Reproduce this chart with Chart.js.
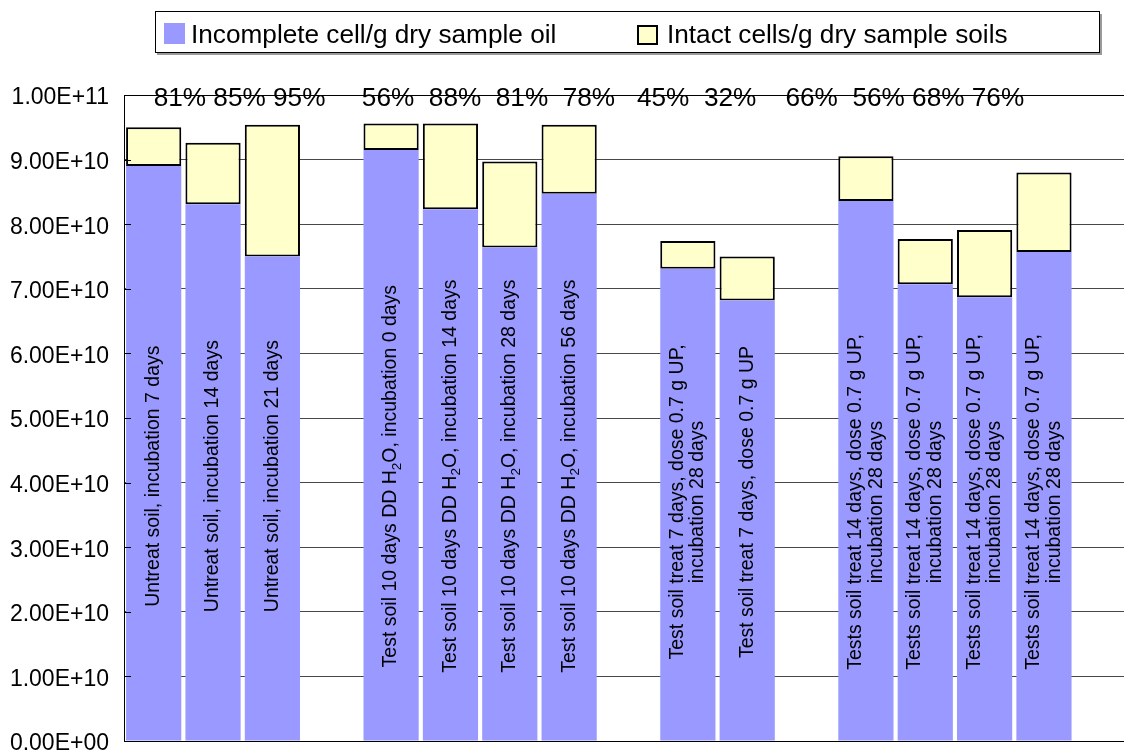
<!DOCTYPE html>
<html>
<head>
<meta charset="utf-8">
<script src="https://cdn.jsdelivr.net/npm/chart.js@4.4.1/dist/chart.umd.min.js"></script>
<style>
  html, body { margin: 0; padding: 0; background: #fff; overflow: hidden; }
  #wrap { width: 1140px; height: 755px; }
</style>
</head>
<body>
<div id="wrap"><canvas id="c" width="1140" height="755"></canvas></div>
<script>
// ---------- data ----------
const categories = [
  'Untreat soil, incubation 7 days',
  'Untreat soil, incubation 14 days',
  'Untreat soil, incubation 21 days',
  '',
  'Test soil 10 days DD H2O, incubation 0 days',
  'Test soil 10 days DD H2O, incubation 14 days',
  'Test soil 10 days DD H2O, incubation 28 days',
  'Test soil 10 days DD H2O, incubation 56 days',
  '',
  ['Test soil treat 7 days, dose 0.7 g UP,', 'incubation 28 days'],
  'Test soil treat 7 days, dose 0.7 g UP',
  '',
  ['Tests soil treat 14 days, dose 0.7 g UP,', 'incubation 28 days'],
  ['Tests soil treat 14 days, dose 0.7 g UP,', 'incubation 28 days'],
  ['Tests soil treat 14 days, dose 0.7 g UP,', 'incubation 28 days'],
  ['Tests soil treat 14 days, dose 0.7 g UP,', 'incubation 28 days'],
  ''
];
const seriesNames = ['Incomplete cell/g dry sample oil', 'Intact cells/g dry sample soils'];
const incompleteCells = [8.90e10, 8.31e10, 7.50e10, null, 9.15e10, 8.23e10, 7.64e10, 8.47e10, null,
                         7.31e10, 6.82e10, null, 8.36e10, 7.07e10, 6.87e10, 7.57e10, null];
const intactCells     = [0.60e10, 0.95e10, 2.04e10, null, 0.41e10, 1.33e10, 1.33e10, 1.07e10, null,
                         0.43e10, 0.68e10, null, 0.69e10, 0.70e10, 1.04e10, 1.23e10, null];
const percentLabels = ['81%', '85%', '95%', '56%', '88%', '81%', '78%', '45%', '32%', '66%', '56%', '68%', '76%'];
const yTickValues = [0, 1e10, 2e10, 3e10, 4e10, 5e10, 6e10, 7e10, 8e10, 9e10, 1e11];

// ---------- helpers ----------
const FONT = "'Liberation Sans', Arial, Helvetica, sans-serif";
function sci(v) {
  if (Math.abs(v) < 1) return '0.00E+00';
  const e = Math.floor(Math.log10(v) + 1e-9);
  const m = v / Math.pow(10, e);
  return m.toFixed(2) + 'E+' + String(e).padStart(2, '0');
}

// legend box drawn from dataset definitions
const legendPlugin = {
  id: 'boxLegend',
  afterDraw(chart) {
    const ctx = chart.ctx;
    const ds = chart.data.datasets;
    ctx.save();
    ctx.fillStyle = '#9a9a9a';
    ctx.fillRect(157, 53, 945, 2);
    ctx.fillRect(1100, 14, 2, 41);
    ctx.fillStyle = '#fff';
    ctx.fillRect(155, 12, 945, 41);
    ctx.strokeStyle = '#000';
    ctx.lineWidth = 1;
    ctx.strokeRect(155.5, 11.5, 944, 41);
    ctx.font = '26.2px ' + FONT;
    ctx.textBaseline = 'alphabetic';
    ctx.textAlign = 'left';
    ctx.fillStyle = ds[0].backgroundColor;
    ctx.fillRect(164, 23, 21, 21);
    ctx.fillStyle = '#000';
    ctx.fillText(ds[0].label, 191, 43);
    ctx.fillStyle = ds[1].backgroundColor;
    ctx.fillRect(638, 26, 19, 18);
    ctx.strokeStyle = '#000';
    ctx.lineWidth = 2;
    ctx.strokeRect(638, 26, 19, 18);
    ctx.fillStyle = '#000';
    ctx.fillText(ds[1].label, 667, 43);
    ctx.restore();
  }
};

// percentage annotation line (a text box in the original), spaced with blanks
const percentPlugin = {
  id: 'percentRow',
  afterDraw(chart) {
    const ctx = chart.ctx;
    const xs = chart.scales.x;
    const gaps = [1, 1, 5, 2, 2, 2, 3, 2, 4, 2, 1, 1];
    ctx.save();
    ctx.font = '26.2px ' + FONT;
    ctx.fillStyle = '#000';
    ctx.textAlign = 'left';
    ctx.textBaseline = 'alphabetic';
    let x = xs.getPixelForValue(0);
    const y = chart.chartArea.top + 11;
    const sp = ctx.measureText(' ').width;
    percentLabels.forEach((t, i) => {
      ctx.fillText(t, x, y);
      x += ctx.measureText(t).width + sp * (gaps[i] || 0);
    });
    ctx.restore();
  }
};

// rotated category labels inside the bars + inward tick marks
const insideLabelPlugin = {
  id: 'insideLabels',
  afterDatasetsDraw(chart) {
    const ctx = chart.ctx;
    const xs = chart.scales.x, ys = chart.scales.y;
    const size = 19.5, subSize = 13.5, lineGap = 20.5;
    ctx.save();
    ctx.strokeStyle = '#000';
    ctx.lineWidth = 1;
    ys.ticks.forEach(t => {
      const py = Math.round(ys.getPixelForValue(t.value)) + 0.5;
      ctx.beginPath();
      ctx.moveTo(chart.chartArea.left, py);
      ctx.lineTo(chart.chartArea.left + 7, py);
      ctx.stroke();
    });
    ctx.fillStyle = '#000';
    ctx.textBaseline = 'middle';
    ctx.textAlign = 'left';
    chart.data.labels.forEach((lab, i) => {
      if (!lab || (Array.isArray(lab) && !lab.length)) return;
      const lines = Array.isArray(lab) ? lab : [lab];
      const cx = xs.getPixelForValue(i);
      const cy = ys.getPixelForValue(i < 8 ? 4.1e10 : 3.7e10);
      ctx.save();
      ctx.translate(cx, cy);
      ctx.rotate(-Math.PI / 2);
      lines.forEach((ln, j) => {
        const off = (j - (lines.length - 1) / 2) * lineGap;
        const segs = [];
        const m = ln.match(/^(.*H)2(O.*)$/);
        if (m) { segs.push({ t: m[1] }, { t: '2', sub: true }, { t: m[2] }); }
        else segs.push({ t: ln });
        let total = 0;
        segs.forEach(s => {
          ctx.font = (s.sub ? subSize : size) + 'px ' + FONT;
          s.w = ctx.measureText(s.t).width;
          total += s.w;
        });
        let x = -total / 2;
        segs.forEach(s => {
          ctx.font = (s.sub ? subSize : size) + 'px ' + FONT;
          ctx.fillText(s.t, x, off + (s.sub ? 6 : 0));
          x += s.w;
        });
      });
      ctx.restore();
    });
    ctx.restore();
  }
};

new Chart(document.getElementById('c'), {
  type: 'bar',
  data: {
    labels: categories,
    datasets: [
      { label: seriesNames[0], data: incompleteCells, backgroundColor: '#9999FF', borderWidth: 0, stack: 's' },
      { label: seriesNames[1], data: intactCells, backgroundColor: '#FFFFCC', borderColor: '#000000',
        borderWidth: 2, borderSkipped: false, stack: 's' }
    ]
  },
  options: {
    responsive: false,
    animation: false,
    devicePixelRatio: 1,
    layout: { padding: { top: 95, left: 10, right: 7, bottom: 14 } },
    datasets: { bar: { barPercentage: 0.93, categoryPercentage: 1 } },
    plugins: { legend: { display: false }, tooltip: { enabled: false } },
    scales: {
      x: {
        stacked: true,
        grid: { display: false, drawTicks: false },
        border: { display: true, color: '#000', width: 1, z: 1 },
        ticks: { display: false }
      },
      y: {
        stacked: true,
        min: 0, max: 1e11,
        afterBuildTicks(scale) { scale.ticks = yTickValues.map(v => ({ value: v })); },
        afterFit(scale) { scale.width = 114; scale.paddingTop = 0; scale.paddingBottom = 0; },
        ticks: {
          callback: v => sci(v),
          font: { family: FONT, size: 23 },
          color: '#000',
          padding: 15,
          labelOffset: 3,
          autoSkip: false
        },
        grid: {
          color: c => (c.tick && c.tick.value >= 1e11 ? '#000' : '#484848'),
          lineWidth: 1,
          drawTicks: false
        },
        border: { display: true, color: '#000', width: 1, z: 1 }
      }
    }
  },
  plugins: [insideLabelPlugin, percentPlugin, legendPlugin]
});
</script>
</body>
</html>
